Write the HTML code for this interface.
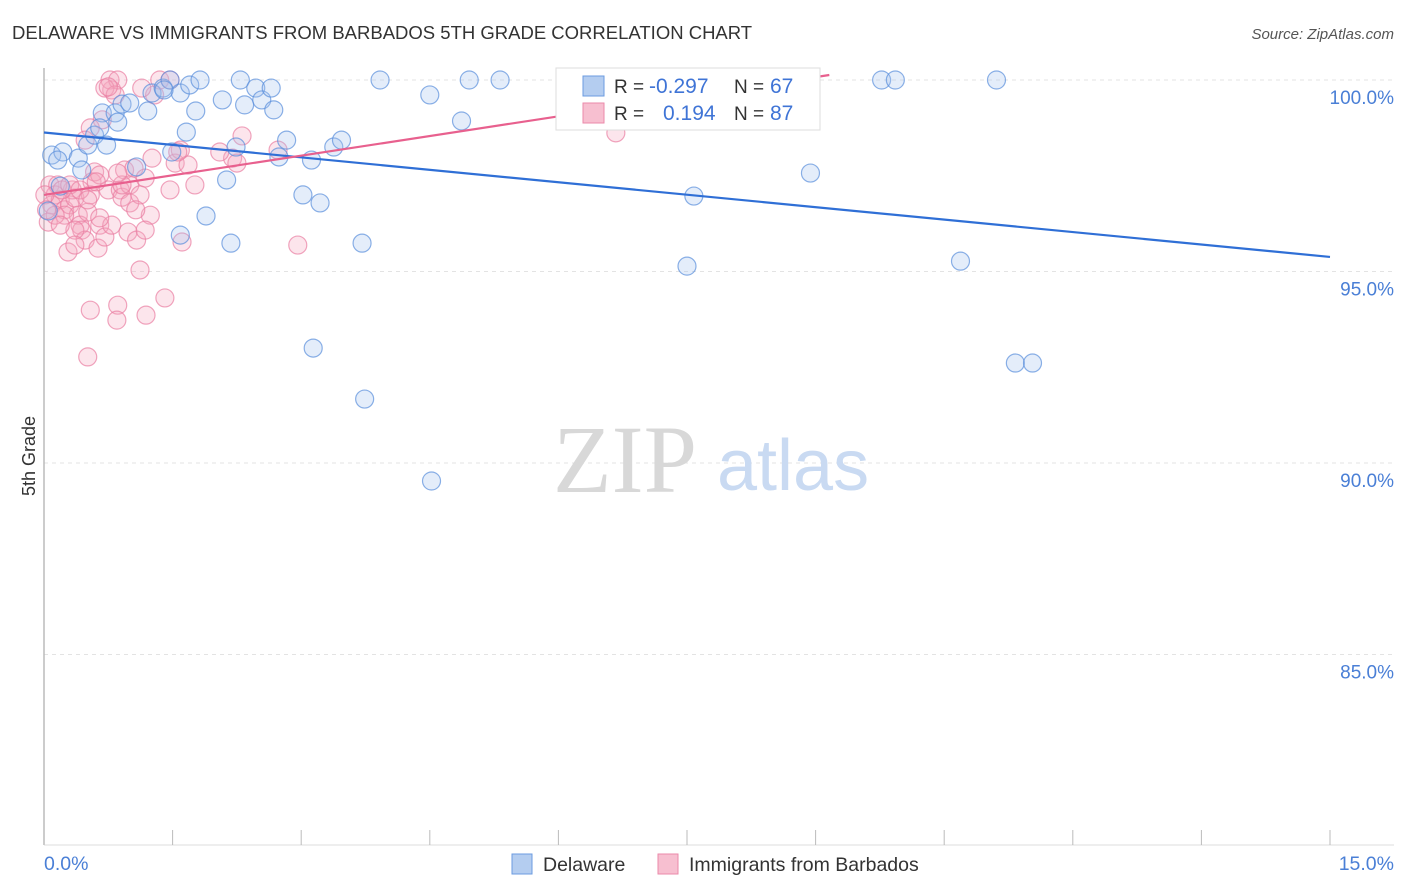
<!DOCTYPE html>
<html><head><meta charset="utf-8"><style>
body{margin:0;background:#fff;font-family:"Liberation Sans",sans-serif;}
svg{display:block}
</style></head><body>
<svg id="chart" width="1406" height="892" xmlns="http://www.w3.org/2000/svg">
<text x="12" y="39" font-size="18.5" fill="#333">DELAWARE VS IMMIGRANTS FROM BARBADOS 5TH GRADE CORRELATION CHART</text>
<text x="1394" y="39" font-size="15" fill="#555" font-style="italic" text-anchor="end">Source: ZipAtlas.com</text>
<g id="grid"></g>
<line x1="44" y1="68" x2="44" y2="845" stroke="#bbb" stroke-width="1.5"/>
<line x1="44" y1="845" x2="1394" y2="845" stroke="#ddd" stroke-width="1"/>
<g id="xticks"></g>
<text x="35" y="456" font-size="18" fill="#333" transform="rotate(-90 35 456)" text-anchor="middle">5th Grade</text>
<text x="44" y="870" font-size="19.5" fill="#4a7fd6">0.0%</text>
<text x="1394" y="870" font-size="19.5" fill="#4a7fd6" text-anchor="end">15.0%</text>
<g>
<text x="553" y="492" font-size="96" font-family="Liberation Serif,serif" fill="#d8d8d8">ZIP</text>
<text x="717" y="490" font-size="72" fill="#c9daf2">atlas</text>
</g>
<g id="pink"></g>
<g id="blue"></g>
<g id="lines"></g>
<g>
<rect x="556" y="68" width="264" height="62" fill="#fff" stroke="#ddd"/>
<rect x="583" y="76" width="21" height="20" fill="#b4cdf0" stroke="#6b9be0"/>
<text x="614" y="93" font-size="19" fill="#333">R =</text>
<text x="649" y="93" font-size="21" fill="#3f74d6">-0.297</text>
<text x="734" y="93" font-size="19" fill="#333">N =</text>
<text x="770" y="93" font-size="21" fill="#3f74d6">67</text>
<rect x="583" y="103" width="21" height="20" fill="#f7bfd0" stroke="#eb8aaa"/>
<text x="614" y="120" font-size="19" fill="#333">R =</text>
<text x="663" y="120" font-size="21" fill="#3f74d6">0.194</text>
<text x="734" y="120" font-size="19" fill="#333">N =</text>
<text x="770" y="120" font-size="21" fill="#3f74d6">87</text>
</g>
<g>
<rect x="512" y="854" width="20" height="20" fill="#b4cdf0" stroke="#6b9be0"/>
<text x="543" y="871" font-size="19.5" fill="#333">Delaware</text>
<rect x="658" y="854" width="20" height="20" fill="#f7bfd0" stroke="#eb8aaa"/>
<text x="689" y="871" font-size="19.5" fill="#333">Immigrants from Barbados</text>
</g>
</svg>
<script>
const yTicks=[100,95,90,85];
const yTickLabels=["100.0%","95.0%","90.0%","85.0%"];
const xTicks=[0,1.5,3,4.5,6,7.5,9,10.5,12,13.5,15];
const blueX=[0.09,0.22,0.16,0.40,0.44,0.51,0.59,0.68,0.73,0.83,0.86,0.91,1.00,1.08,1.21,1.26,1.39,1.47,1.59,1.66,1.70,1.77,1.82,1.89,1.49,1.59,2.08,2.13,2.18,2.24,2.29,2.34,2.47,2.54,2.65,2.68,2.74,2.83,3.02,3.12,3.14,3.22,3.38,3.47,3.71,3.74,3.92,4.50,4.52,4.87,4.96,5.32,7.50,7.58,8.94,9.77,9.93,10.69,11.11,11.33,11.53,0.05,0.19,0.65,1.40];
const blueY=[98.04,98.12,97.91,97.96,97.65,98.30,98.56,99.14,98.30,99.14,98.90,99.37,99.40,97.73,99.19,99.66,99.79,100,99.66,98.64,99.87,99.19,100,96.45,98.12,95.95,99.48,97.39,95.74,98.25,100,99.35,99.79,99.48,99.79,99.22,97.99,98.43,97.00,97.91,93.00,96.79,98.25,98.43,95.74,91.67,100,99.61,89.53,98.93,100,100,95.14,96.97,97.57,100,100,95.27,100,92.61,92.61,96.58,97.23,98.75,99.74];
const pinkX=[0.05,0.07,0.13,0.09,0.19,0.24,0.30,0.33,0.36,0.40,0.42,0.44,0.48,0.51,0.54,0.56,0.59,0.63,0.65,0.28,0.51,0.54,0.71,0.75,0.79,0.77,0.86,0.89,0.91,0.94,0.98,1.00,1.05,1.08,1.12,1.18,1.19,1.24,1.26,1.29,1.35,1.41,1.47,1.53,1.59,1.61,1.68,1.76,0.86,0.85,2.20,2.25,2.31,2.73,2.96,6.67,0.68,0.54,0.48,0.36,0.24,0.16,0.13,1.00,1.12,0.79,0.71,0.83,0.01,0.03,0.21,0.30,0.42,0.65,0.91,1.07,1.47,1.56,0.65,0.19,0.36,1.14,1.18,2.05,0.86,0.51,0.61,0.75];
const pinkY=[96.29,97.26,97.00,96.74,96.87,96.61,96.74,97.13,96.92,96.47,96.21,96.08,95.82,96.55,97.00,97.34,97.60,95.61,96.21,95.51,92.77,93.99,95.90,97.13,99.74,100,100,97.13,96.94,97.65,96.03,97.26,97.70,95.82,95.04,97.44,93.86,96.47,97.96,99.61,100,94.31,100,97.83,98.17,95.77,97.78,97.26,94.12,93.73,97.96,97.83,98.54,98.17,95.69,98.62,98.96,98.75,98.43,96.08,96.47,97.26,96.47,96.79,97.00,96.21,99.79,99.61,97.00,96.61,97.13,97.26,97.13,96.40,97.26,96.61,97.13,98.12,97.52,96.21,95.69,99.79,96.08,98.12,97.57,96.87,97.34,99.82];
const blueTrend=[98.63,95.38];
const pinkTrend=[97.00,100.13,9.16];

const NS="http://www.w3.org/2000/svg";
const X0=44,X1=1330,Y100=80,PXPER5=191.5;
function sx(v){return X0+(v/15)*(X1-X0);}
function sy(v){return Y100+(100-v)/5*PXPER5;}
function mk(t,a,p){const e=document.createElementNS(NS,t);for(const k in a)e.setAttribute(k,a[k]);p.appendChild(e);return e;}

const grid=document.getElementById('grid');
yTicks.forEach((v,i)=>{
  const l=mk('line',{x1:44,x2:1394,y1:sy(v),y2:sy(v),stroke:'#e3e3e3','stroke-dasharray':'4,4'},grid);
  
  
  const t=mk('text',{x:1394,y:sy(v)+24,'font-size':19,fill:'#4a7fd6','text-anchor':'end'},grid);
  t.textContent=yTickLabels[i];
  
  
});
const xt=document.getElementById('xticks');
xTicks.forEach(v=>{
  const l=mk('line',{x1:sx(v),x2:sx(v),y1:830,y2:845,stroke:'#bbb'},xt);
  
  
});
function pts(gid,xs,ys,fill,stroke){
  const g=document.getElementById(gid);
  xs.forEach((x,i)=>{
    const c=mk('circle',{cx:sx(x),cy:sy(ys[i]),r:9,fill:fill,'fill-opacity':0.3,stroke:stroke,'stroke-width':1.2,'stroke-opacity':0.7},g);
    
    
  });
}
pts('pink',pinkX,pinkY,'#f5a8c0','#ea7fa2');
pts('blue',blueX,blueY,'#a7c4ee','#5a8fdc');
const lg=document.getElementById('lines');
const bl=mk('line',{x1:sx(0),y1:sy(blueTrend[0]),x2:sx(15),y2:sy(blueTrend[1]),stroke:'#2f6fd6','stroke-width':2.2},lg);


const pl=mk('line',{x1:sx(0),y1:sy(pinkTrend[0]),x2:sx(pinkTrend[2]),y2:sy(pinkTrend[1]),stroke:'#e8608e','stroke-width':2.2},lg);


</script>
</body></html>
